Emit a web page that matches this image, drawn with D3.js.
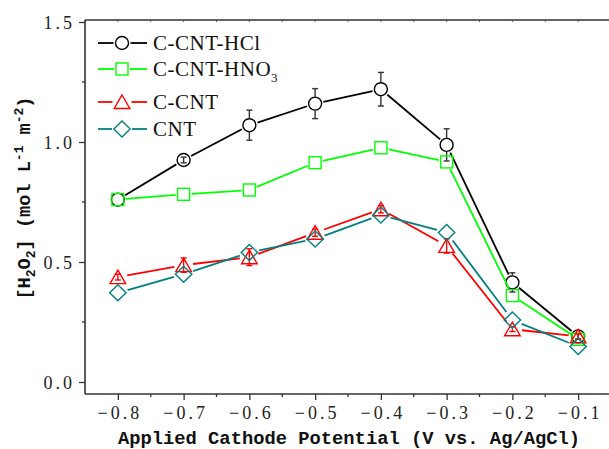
<!DOCTYPE html>
<html>
<head>
<meta charset="utf-8">
<script src="https://cdn.jsdelivr.net/npm/d3@7"></script>
<style>
html, body { margin: 0; padding: 0; background: #fff; }
svg { display: block; }
</style>
</head>
<body>
<svg id="chart" width="609" height="449"></svg>
<script>
// ---- data ----
const potentials = [-0.8, -0.7, -0.6, -0.5, -0.4, -0.3, -0.2, -0.1];
const seriesNames = ["C-CNT-HCl", "C-CNT-HNO3", "C-CNT", "CNT"];
const hclValues = [0.76, 0.925, 1.07, 1.16, 1.22, 0.988, 0.415, 0.19];
const hclErrors = [0, 0.012, 0.0625, 0.0625, 0.07, 0.067, 0.04, 0.012];
const hno3Values = [0.76, 0.782, 0.80, 0.914, 0.976, 0.917, 0.36, 0.178];
const ccntValues = [0.437, 0.487, 0.52, 0.622, 0.72, 0.567, 0.22, 0.19];
const ccntErrors = [0.012, 0.03, 0.035, 0.015, 0.015, 0.03, 0.01, 0.01];
const cntValues = [0.372, 0.449, 0.54, 0.596, 0.696, 0.623, 0.258, 0.148];
const xTickValues = [-0.8, -0.7, -0.6, -0.5, -0.4, -0.3, -0.2, -0.1];
const xTickLabels = ["−0.8", "−0.7", "−0.6", "−0.5", "−0.4", "−0.3", "−0.2", "−0.1"];
const yTickValues = [0.0, 0.5, 1.0, 1.5];
const yTickLabels = ["0.0", "0.5", "1.0", "1.5"];

const series = [
  { name: seriesNames[0], values: hclValues, errors: hclErrors, color: "#000000", errColor: "#333333", symbol: "circle" },
  { name: seriesNames[1], values: hno3Values, errors: null, color: "#00ff00", errColor: "#00ff00", symbol: "square" },
  { name: seriesNames[2], values: ccntValues, errors: ccntErrors, color: "#ff0000", errColor: "#ff0000", symbol: "triangle" },
  { name: seriesNames[3], values: cntValues, errors: null, color: "#008080", errColor: "#008080", symbol: "diamond" }
];

// ---- layout ----
const svg = d3.select("#chart");
const pLeft = 85, pRight = 611, pTop = 20, pBottom = 394;
const x = d3.scaleLinear().domain([-0.85, -0.05]).range([pLeft, pRight]);
const y = d3.scaleLinear().domain([-0.05, 1.5]).range([pBottom, 22]);

const tickFont = "'Liberation Serif', 'Times New Roman', serif";
const titleFont = "'Liberation Mono', 'Courier New', monospace";

// frame top line
svg.append("line").attr("x1", pLeft).attr("x2", 609).attr("y1", pTop).attr("y2", pTop)
  .attr("stroke", "#333").attr("stroke-width", 1.6);

// top tiny ticks (inward)
svg.append("g").selectAll("line").data(d3.range(-0.85, -0.04, 0.05)).join("line")
  .attr("x1", d => x(d)).attr("x2", d => x(d)).attr("y1", pTop).attr("y2", pTop + 2)
  .attr("stroke", "#555").attr("stroke-width", 1);

// x axis
const xAxis = d3.axisBottom(x).tickValues(xTickValues).tickSize(6).tickSizeOuter(0)
  .tickFormat((d, i) => xTickLabels[i]);
const gx = svg.append("g").attr("transform", `translate(0,${pBottom})`).call(xAxis);
gx.select(".domain").attr("stroke", "#333").attr("stroke-width", 1.6).attr("d", `M${pLeft},0H609`);
gx.selectAll(".tick line").attr("stroke", "#333").attr("stroke-width", 1.3);
gx.selectAll(".tick text").attr("font-family", tickFont).attr("font-size", 18)
  .attr("letter-spacing", "3px").attr("fill", "#222").attr("y", 12).attr("dx", "1.5px");
// x minor ticks
svg.append("g").selectAll("line").data(d3.range(-0.75, -0.05, 0.1)).join("line")
  .attr("x1", d => x(d)).attr("x2", d => x(d)).attr("y1", pBottom).attr("y2", pBottom + 3)
  .attr("stroke", "#333").attr("stroke-width", 1.3);

// y axis
const yAxis = d3.axisLeft(y).tickValues(yTickValues).tickSize(6).tickSizeOuter(0)
  .tickFormat((d, i) => yTickLabels[i]);
const gy = svg.append("g").attr("transform", `translate(${pLeft},0)`).call(yAxis);
gy.select(".domain").attr("stroke", "#333").attr("stroke-width", 1.6).attr("d", `M0,${pTop}V${pBottom}`);
gy.selectAll(".tick line").attr("stroke", "#333").attr("stroke-width", 1.3);
gy.selectAll(".tick text").attr("font-family", tickFont).attr("font-size", 18)
  .attr("letter-spacing", "3px").attr("fill", "#222").attr("x", -10).attr("dy", "0.35em");
// y minor ticks
svg.append("g").selectAll("line").data([0.25, 0.75, 1.25]).join("line")
  .attr("x1", pLeft).attr("x2", pLeft - 3).attr("y1", d => y(d)).attr("y2", d => y(d))
  .attr("stroke", "#333").attr("stroke-width", 1.3);

// axis titles
svg.append("text").attr("x", (x(-0.8) + x(-0.1)) / 2 + 1).attr("y", 444)
  .attr("text-anchor", "middle").attr("font-family", titleFont).attr("font-weight", "bold")
  .attr("font-size", 18.8).attr("fill", "#111")
  .text("Applied Cathode Potential (V vs. Ag/AgCl)");

const yt = svg.append("text").attr("transform", "translate(30,198) rotate(-90)")
  .attr("text-anchor", "middle").attr("font-family", titleFont).attr("font-weight", "bold")
  .attr("font-size", 18.6).attr("fill", "#111");
yt.append("tspan").text("[H");
yt.append("tspan").text("2").attr("font-size", 13).attr("dy", 5);
yt.append("tspan").text("O").attr("dy", -5);
yt.append("tspan").text("2").attr("font-size", 13).attr("dy", 5);
yt.append("tspan").text("] (mol L").attr("dy", -5);
yt.append("tspan").text("-1").attr("font-size", 13).attr("dy", -7);
yt.append("tspan").text(" m").attr("dy", 7);
yt.append("tspan").text("-2").attr("font-size", 13).attr("dy", -7);
yt.append("tspan").text(")").attr("dy", 7);

// ---- marker helpers ----
const markerRadius = { circle: 6.5, square: 6, triangle: 7.5, diamond: 8 };
function drawMarker(g, symbol, cx, cy, color) {
  let el;
  if (symbol === "circle") {
    el = g.append("circle").attr("cx", cx).attr("cy", cy).attr("r", 6.5);
  } else if (symbol === "square") {
    el = g.append("rect").attr("x", cx - 6).attr("y", cy - 6).attr("width", 12).attr("height", 12);
  } else if (symbol === "triangle") {
    el = g.append("path").attr("d", `M${cx},${cy - 7}L${cx + 7.8},${cy + 6.5}L${cx - 7.8},${cy + 6.5}Z`);
  } else {
    el = g.append("path").attr("d", `M${cx},${cy - 8}L${cx + 8.2},${cy}L${cx},${cy + 8}L${cx - 8.2},${cy}Z`);
  }
  el.attr("fill", "none").attr("stroke", color).attr("stroke-width", 1.4);
}

// ---- series ----
const plot = svg.append("g");
series.forEach(s => {
  const g = plot.append("g");
  const pts = potentials.map((p, i) => [x(p), y(s.values[i])]);
  const gap = markerRadius[s.symbol] + 2;
  for (let i = 0; i < pts.length - 1; i++) {
    const [x1, y1] = pts[i], [x2, y2] = pts[i + 1];
    const dx = x2 - x1, dy = y2 - y1, len = Math.hypot(dx, dy);
    if (len <= 2 * gap) continue;
    const ux = dx / len, uy = dy / len;
    g.append("line")
      .attr("x1", x1 + ux * gap).attr("y1", y1 + uy * gap)
      .attr("x2", x2 - ux * gap).attr("y2", y2 - uy * gap)
      .attr("stroke", s.color).attr("stroke-width", 1.8);
  }
  pts.forEach(([cx, cy], i) => {
    drawMarker(g, s.symbol, cx, cy, s.color);
    if (s.errors && s.errors[i] > 0) {
      const e = Math.abs(y(s.values[i] + s.errors[i]) - cy);
      const r = s.symbol === "circle" ? 6.5 : 0;
      const eg = g.append("g").attr("stroke", s.errColor).attr("stroke-width", 1.4);
      if (e > r) {
        eg.append("line").attr("x1", cx).attr("x2", cx).attr("y1", cy - r).attr("y2", cy - e);
        eg.append("line").attr("x1", cx).attr("x2", cx).attr("y1", cy + r).attr("y2", cy + e);
      } else {
        eg.append("line").attr("x1", cx).attr("x2", cx).attr("y1", cy - e).attr("y2", cy + e);
      }
      eg.append("line").attr("x1", cx - 3).attr("x2", cx + 3).attr("y1", cy - e).attr("y2", cy - e);
      eg.append("line").attr("x1", cx - 3).attr("x2", cx + 3).attr("y1", cy + e).attr("y2", cy + e);
    }
  });
});

// ---- legend ----
const legendRows = [43, 69, 102, 129];
const legend = svg.append("g");
series.forEach((s, i) => {
  const ly = legendRows[i];
  const gap = markerRadius[s.symbol] + 2;
  legend.append("line").attr("x1", 98).attr("x2", 122 - gap).attr("y1", ly).attr("y2", ly)
    .attr("stroke", s.color).attr("stroke-width", 1.8);
  legend.append("line").attr("x1", 122 + gap).attr("x2", 147).attr("y1", ly).attr("y2", ly)
    .attr("stroke", s.color).attr("stroke-width", 1.8);
  drawMarker(legend, s.symbol, 122, ly, s.color);
  const t = legend.append("text").attr("x", 153).attr("y", ly + 7)
    .attr("font-family", tickFont).attr("font-size", 21).attr("letter-spacing", "0.5px")
    .attr("fill", "#111");
  if (s.name === "C-CNT-HNO3") {
    t.append("tspan").text("C-CNT-HNO");
    t.append("tspan").text("3").attr("font-size", 13).attr("dy", 6);
  } else {
    t.text(s.name);
  }
});
</script>
</body>
</html>
